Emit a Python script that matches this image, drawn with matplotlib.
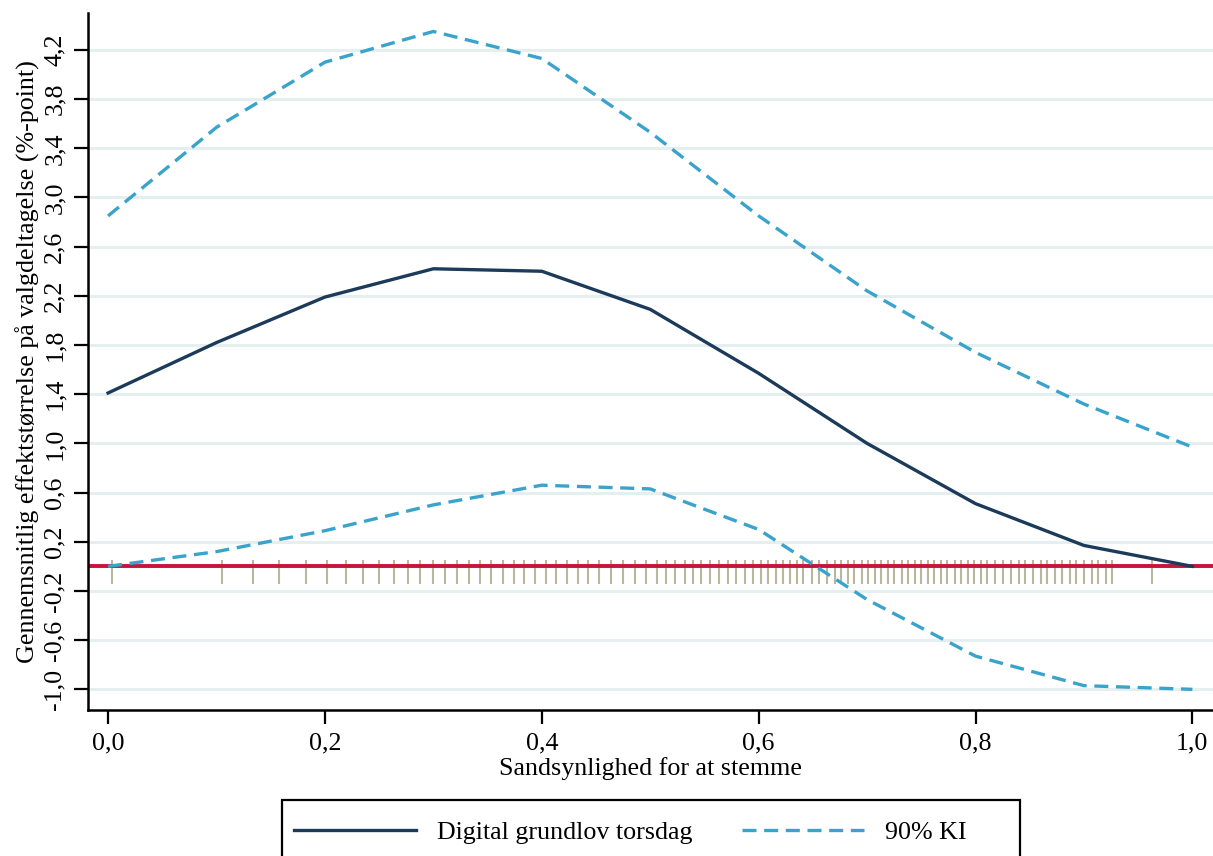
import numpy as np
import matplotlib
matplotlib.use('Agg')
import matplotlib.pyplot as plt
from matplotlib.patches import Rectangle

# predicted values at each probability level
prob = [0.0, 0.1, 0.2, 0.3, 0.4, 0.5, 0.6, 0.7, 0.8, 0.9, 1.0]
effect = [1.41, 1.82, 2.19, 2.42, 2.40, 2.09, 1.57, 1.00, 0.51, 0.17, 0.0]
ci_upper = [2.85, 3.57, 4.10, 4.35, 4.13, 3.53, 2.85, 2.24, 1.74, 1.32, 0.97]
ci_lower = [0.0, 0.12, 0.29, 0.50, 0.66, 0.63, 0.30, -0.27, -0.73, -0.97, -1.0]

# observed probabilities (rug)
rug = [0.004, 0.105, 0.134, 0.158, 0.183, 0.202, 0.219, 0.235, 0.250, 0.264,
       0.277, 0.288, 0.300, 0.311, 0.322, 0.333, 0.343, 0.353, 0.364, 0.374,
       0.384, 0.394, 0.404, 0.413, 0.423, 0.433, 0.443, 0.453, 0.464, 0.475,
       0.486, 0.496, 0.506, 0.515, 0.523, 0.532, 0.539, 0.547, 0.555, 0.563,
       0.572, 0.579, 0.587, 0.595, 0.602, 0.609, 0.616, 0.622, 0.629, 0.635,
       0.641, 0.649, 0.656, 0.663, 0.670, 0.676, 0.682, 0.688, 0.695, 0.701,
       0.707, 0.713, 0.719, 0.725, 0.732, 0.738, 0.744, 0.750, 0.756, 0.762,
       0.768, 0.774, 0.781, 0.787, 0.793, 0.799, 0.805, 0.811, 0.818, 0.825,
       0.833, 0.840, 0.846, 0.853, 0.860, 0.866, 0.873, 0.880, 0.887, 0.893,
       0.900, 0.907, 0.913, 0.920, 0.926, 0.963]

yticks = [4.2, 3.8, 3.4, 3.0, 2.6, 2.2, 1.8, 1.4, 1.0, 0.6, 0.2, -0.2, -0.6, -1.0]
xticks = [0.0, 0.2, 0.4, 0.6, 0.8, 1.0]

NAVY = '#1c3a5a'
CYAN = '#3aa3cb'
RED = '#c8133a'
RUG = '#b8b89e'
GRID = '#e6efef'

plt.rcParams['font.family'] = ['Liberation Serif', 'DejaVu Serif']
FS = 18.7

fig = plt.figure(figsize=(12.13, 8.56), dpi=100)
ax = fig.add_axes([88 / 1213, 146 / 856, 1 - 88 / 1213, 697 / 856])

for y in yticks:
    ax.axhline(y, color=GRID, lw=2.2, zorder=0)

ax.vlines(rug, -0.14, 0.05, color=RUG, lw=1.5, zorder=1)
ax.axhline(0, color=RED, lw=2.8, zorder=2)

ax.plot(prob, effect, color=NAVY, lw=2.4, zorder=3, label='Digital grundlov torsdag')
ax.plot(prob, ci_upper, color=CYAN, lw=2.4, ls=(0, (4.2, 2.3)), zorder=3, label='90% KI')
ax.plot(prob, ci_lower, color=CYAN, lw=2.4, ls=(0, (4.2, 2.3)), zorder=3)

ax.set_xlim(-0.0185, 1.019)
ax.set_ylim(-1.168, 4.50)
ax.set_yticks(yticks)
ax.set_yticklabels([('%.1f' % v).replace('.', ',') for v in yticks])
ax.set_xticks(xticks)
ax.set_xticklabels([('%.1f' % v).replace('.', ',') for v in xticks])
ax.tick_params(axis='both', labelsize=FS, length=10, width=1.6, color='black', pad=6)
ax.tick_params(axis='y', labelrotation=90)
for lab in ax.get_yticklabels():
    lab.set_va('center')

for side in ['top', 'right']:
    ax.spines[side].set_visible(False)
for side in ['left', 'bottom']:
    ax.spines[side].set_linewidth(1.8)

ax.set_xlabel('Sandsynlighed for at stemme', fontsize=FS, labelpad=2)
ax.set_ylabel('Gennemsnitlig effektstørrelse på valgdeltagelse (%-point)', fontsize=FS, labelpad=3)

handles, labels = ax.get_legend_handles_labels()
fig.legend(handles, labels, loc='center left', bbox_to_anchor=(294 / 1213, 1 - 832 / 856),
           ncol=2, frameon=False, fontsize=FS, handlelength=4.7, handletextpad=0.8,
           columnspacing=1.9, borderpad=0, borderaxespad=0)
fig.patches.append(Rectangle((282 / 1213, -0.02), (1020 - 282) / 1213, 0.02 + 56 / 856,
                             transform=fig.transFigure, fill=False, edgecolor='black', lw=1.6))

fig.savefig('out.png', dpi=100)
